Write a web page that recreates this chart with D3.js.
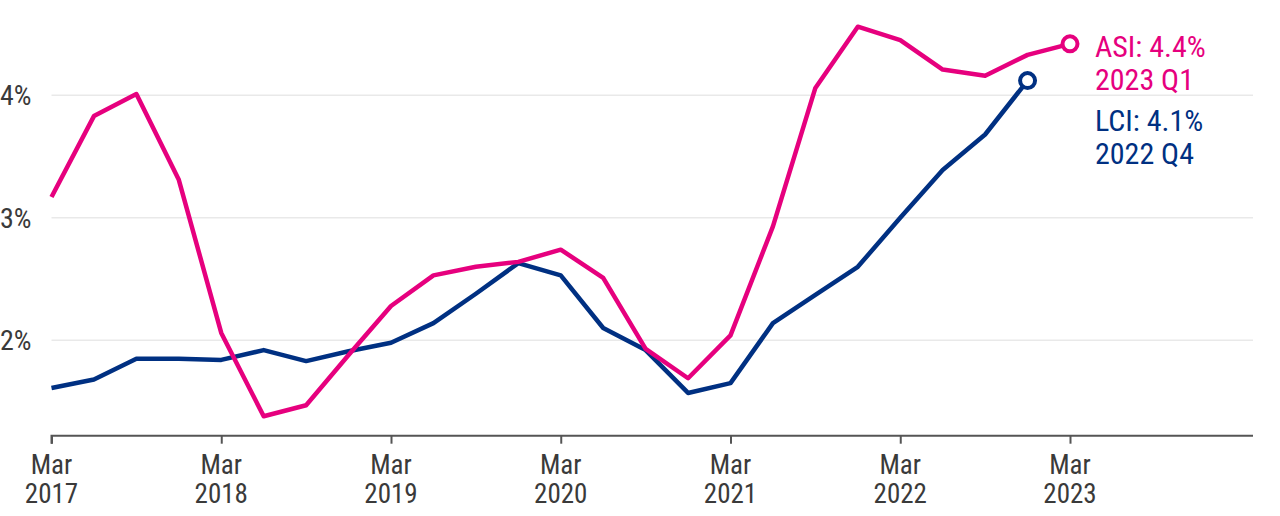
<!DOCTYPE html>
<html>
<head>
<meta charset="utf-8">
<script src="https://cdn.jsdelivr.net/npm/d3@7"></script>
<style>
  body { margin: 0; background: #fff; }
  svg { display: block; font-family: "Roboto Condensed", Roboto, sans-serif; }
</style>
</head>
<body>
<svg width="1280" height="516"></svg>
<script>
// quarterly, Mar 2017 .. Mar 2023
const quarters = d3.range(25).map(i => {
    const y = 2017 + Math.floor(i / 4);
    const m = ["Mar", "Jun", "Sep", "Dec"][i % 4];
    return m + " " + y;
});
const asi = [3.17, 3.83, 4.01, 3.31, 2.06, 1.38, 1.47, 1.88, 2.28, 2.53, 2.60, 2.64, 2.74,
    2.51, 1.93, 1.69, 2.04, 2.93, 4.06, 4.56, 4.45, 4.21, 4.16, 4.33, 4.42];
const lci = [1.61, 1.68, 1.85, 1.85, 1.84, 1.92, 1.83, 1.91, 1.98, 2.14, 2.38, 2.63, 2.53,
    2.10, 1.92, 1.57, 1.65, 2.14, 2.37, 2.60, 3.00, 3.39, 3.68, 4.12];
const yTicks = [2, 3, 4];
const xTickIdx = [0, 4, 8, 12, 16, 20, 24];
const labelLines = [
    { text: "ASI: 4.4%", color: "#e6007e", y: 57 },
    { text: "2023 Q1", color: "#e6007e", y: 90 },
    { text: "LCI: 4.1%", color: "#003082", y: 131 },
    { text: "2022 Q4", color: "#003082", y: 164 }
];

const svg = d3.select("svg");
const x = d3.scaleLinear().domain([0, 24]).range([51.5, 1070]);
const xEnd = 1253;
const y = d3.scaleLinear().domain([1.221, 4.778]).range([435.7, 0]);

// gridlines
svg.append("g").selectAll("line")
    .data(yTicks)
    .enter()
    .append("line")
    .attr("x1", x(0))
    .attr("x2", xEnd)
    .attr("y1", d => y(d))
    .attr("y2", d => y(d))
    .attr("stroke", "#e9e9e9")
    .attr("stroke-width", 1.5);

svg.append("g").selectAll("text")
    .data(yTicks)
    .enter()
    .append("text")
    .attr("x", 0)
    .attr("y", d => y(d))
    .attr("dy", "0.35em")
    .attr("fill", "#3a3a3a")
    .style("font-size", "28px")
    .text(d => d + "%");

// x axis
const xAxis = d3.axisBottom(x)
    .tickValues(xTickIdx)
    .tickSize(8)
    .tickFormat("");
const xAxisG = svg.append("g")
    .attr("transform", "translate(0," + y.range()[0] + ")")
    .call(xAxis);
xAxisG.select(".domain")
    .attr("d", "M" + x(0) + ",8V0H" + xEnd)
    .attr("stroke", "#555")
    .attr("stroke-width", 2);
xAxisG.selectAll(".tick line").attr("stroke", "#555").attr("stroke-width", 2);

const xLab = svg.append("g").selectAll("text")
    .data(xTickIdx)
    .enter()
    .append("text")
    .attr("text-anchor", "middle")
    .attr("fill", "#3a3a3a")
    .style("font-size", "27px");
xLab.append("tspan")
    .attr("x", d => x(d))
    .attr("y", 473.5)
    .text(d => quarters[d].split(" ")[0]);
xLab.append("tspan")
    .attr("x", d => x(d))
    .attr("y", 502.5)
    .text(d => quarters[d].split(" ")[1]);

// lines
const line = d3.line()
    .x((d, i) => x(i))
    .y(d => y(d));

svg.append("path")
    .datum(lci)
    .attr("fill", "none")
    .attr("stroke", "#003082")
    .attr("stroke-width", 4.5)
    .attr("stroke-linejoin", "round")
    .attr("d", line);

svg.append("path")
    .datum(asi)
    .attr("fill", "none")
    .attr("stroke", "#e6007e")
    .attr("stroke-width", 4.5)
    .attr("stroke-linejoin", "round")
    .attr("d", line);

// end markers
[[lci, "#003082"], [asi, "#e6007e"]].forEach(([s, c]) => {
    svg.append("circle")
        .attr("cx", x(s.length - 1))
        .attr("cy", y(s[s.length - 1]))
        .attr("r", 7.5)
        .attr("fill", "#fff")
        .attr("stroke", c)
        .attr("stroke-width", 4);
});

// end labels
svg.append("g").selectAll("text")
    .data(labelLines)
    .enter()
    .append("text")
    .attr("x", 1095)
    .attr("y", d => d.y)
    .attr("fill", d => d.color)
    .style("font-size", "30px")
    .text(d => d.text);
</script>
</body>
</html>
